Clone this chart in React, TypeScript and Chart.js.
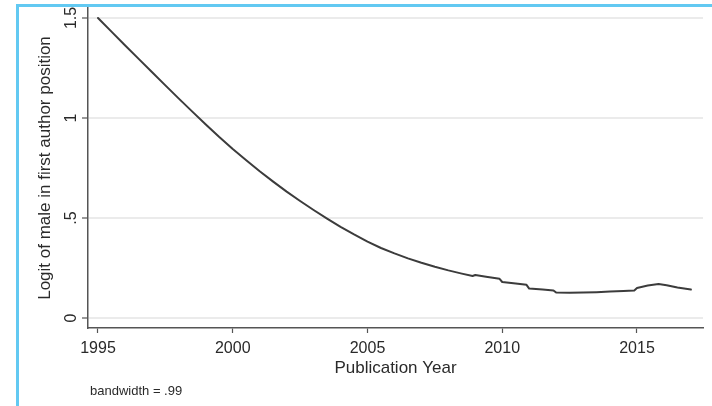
import React, { useEffect, useRef } from "react";
import { Chart, registerables } from "chart.js";

Chart.register(...registerables);

// ---- data ----
const years = [
  1995.0, 1995.5, 1996.0, 1996.5, 1997.0, 1997.5, 1998.0, 1998.5, 1999.0, 1999.5,
  2000.0, 2000.5, 2001.0, 2001.5, 2002.0, 2002.5, 2003.0, 2003.5, 2004.0, 2004.5,
  2005.0, 2005.5, 2006.0, 2006.5, 2007.0, 2007.5, 2008.0, 2008.5, 2008.9, 2009.0,
  2009.4, 2009.9, 2010.0, 2010.5, 2010.9, 2011.0, 2011.5, 2011.9, 2012.0, 2012.5,
  2013.0, 2013.5, 2014.0, 2014.5, 2014.9, 2015.0, 2015.4, 2015.8, 2016.1, 2016.5,
  2017.0,
];
const logitMale = [
  1.5, 1.432, 1.364, 1.297, 1.23, 1.163, 1.097, 1.032, 0.968, 0.905,
  0.845, 0.789, 0.734, 0.682, 0.632, 0.585, 0.54, 0.497, 0.456, 0.418,
  0.382, 0.35, 0.323, 0.298, 0.276, 0.256, 0.238, 0.222, 0.21, 0.215,
  0.206, 0.196, 0.18, 0.172, 0.166, 0.147, 0.142, 0.138, 0.127, 0.126,
  0.127, 0.129, 0.132, 0.135, 0.138, 0.15, 0.162, 0.17, 0.164, 0.152,
  0.142,
];
const xTickValues = [1995, 2000, 2005, 2010, 2015];
const xTickLabels = ["1995", "2000", "2005", "2010", "2015"];
const yTickValues = [0, 0.5, 1, 1.5];
const yTickLabels = ["0", ".5", "1", "1.5"];
const xTitle = "Publication Year";
const yTitle = "Logit of male in first author position";
const noteText = "bandwidth = .99";

const FONT = "'Liberation Sans', Arial, Helvetica, sans-serif";

export default function App() {
  const canvasRef = useRef<HTMLCanvasElement | null>(null);

  useEffect(() => {
    if (!canvasRef.current) return;
    const points = years.map((x, i) => ({ x, y: logitMale[i] }));
    const chart = new Chart(canvasRef.current, {
      type: "line",
      data: {
        datasets: [
          {
            data: points,
            borderColor: "#3c3c3c",
            borderWidth: 2,
            pointRadius: 0,
            tension: 0,
            borderJoinStyle: "round",
            borderCapStyle: "round",
            fill: false,
          },
        ],
      },
      options: {
        responsive: false,
        animation: false,
        events: [],
        layout: { padding: { top: 8, right: 9, left: 0, bottom: 0 } },
        plugins: {
          legend: { display: false },
          tooltip: { enabled: false },
          title: { display: false },
        },
        scales: {
          x: {
            type: "linear",
            min: 1994.629,
            max: 2017.449,
            afterBuildTicks: (scale: any) => {
              scale.ticks = xTickValues.map((v) => ({ value: v }));
            },
            afterFit: (scale: any) => {
              scale.height = 78;
              scale.paddingLeft = 0;
              scale.paddingRight = 0;
            },
            ticks: {
              callback: (v: any) => {
                const i = xTickValues.indexOf(Number(v));
                return i >= 0 ? xTickLabels[i] : "";
              },
              font: { family: FONT, size: 16 },
              color: "#2a2a2a",
              padding: 6,
              maxRotation: 0,
              minRotation: 0,
              autoSkip: false,
            },
            grid: {
              drawOnChartArea: false,
              drawTicks: true,
              tickLength: 5,
              tickColor: "#555",
              tickWidth: 1.2,
            },
            border: { display: true, color: "#555", width: 1.5 },
            title: {
              display: true,
              text: xTitle,
              font: { family: FONT, size: 17 },
              color: "#2a2a2a",
              padding: { top: 0, bottom: 27 },
            },
          },
          y: {
            type: "linear",
            min: -0.05,
            max: 1.55,
            afterBuildTicks: (scale: any) => {
              scale.ticks = yTickValues.map((v) => ({ value: v }));
            },
            afterFit: (scale: any) => {
              scale.width = 88;
              scale.paddingTop = 0;
              scale.paddingBottom = 0;
            },
            ticks: {
              callback: (v: any) => {
                const i = yTickValues.indexOf(Number(v));
                return i >= 0 ? yTickLabels[i] : "";
              },
              font: { family: FONT, size: 16 },
              color: "#2a2a2a",
              minRotation: 90,
              maxRotation: 90,
              crossAlign: "center",
              padding: -1,
              autoSkip: false,
            },
            grid: {
              color: "#ebebeb",
              lineWidth: 2,
              drawTicks: true,
              tickLength: 6,
              tickColor: "#555",
              tickWidth: 1.2,
            },
            border: { display: true, color: "#555", width: 1.5 },
            title: {
              display: true,
              text: yTitle,
              font: { family: FONT, size: 17 },
              color: "#2a2a2a",
              padding: { top: 35, bottom: 0 },
            },
          },
        },
      },
    });
    return () => chart.destroy();
  }, []);

  return (
    <div
      style={{
        position: "fixed",
        left: 0,
        top: 0,
        width: 712,
        height: 406,
        background: "#ffffff",
        overflow: "hidden",
      }}
    >
      <canvas
        ref={canvasRef}
        width={712}
        height={406}
        style={{ position: "absolute", left: 0, top: 0, width: 712, height: 406 }}
      />
      <div
        style={{
          position: "absolute",
          left: 90,
          top: 384,
          fontFamily: FONT,
          fontSize: 13,
          lineHeight: "14px",
          color: "#2a2a2a",
          whiteSpace: "nowrap",
        }}
      >
        {noteText}
      </div>
      <div
        style={{
          position: "absolute",
          left: 16,
          top: 4,
          width: 720,
          height: 420,
          borderTop: "3px solid #62c9f2",
          borderLeft: "3px solid #62c9f2",
          pointerEvents: "none",
        }}
      />
    </div>
  );
}
